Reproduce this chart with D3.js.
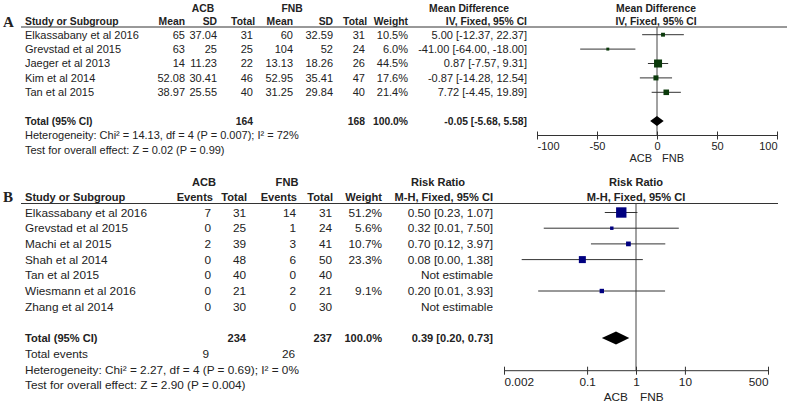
<!DOCTYPE html>
<html><head><meta charset="utf-8">
<script src="https://cdn.jsdelivr.net/npm/d3@7"></script>
<style>
html,body{margin:0;padding:0;background:#fff;}
svg text{font-family:"Liberation Sans",Arial,sans-serif;fill:#222;}
</style></head>
<body><svg id="c" width="787" height="405"></svg>
<script>
// ---------- Panel A data ----------
const studiesA = ["Elkassabany et al 2016","Grevstad et al 2015","Jaeger et al 2013","Kim et al 2014","Tan et al 2015"];
const acbMeanA = [65, 63, 14, 52.08, 38.97];
const acbSdA = [37.04, 25, 11.23, 30.41, 25.55];
const acbTotalA = [31, 25, 22, 46, 40];
const fnbMeanA = [60, 104, 13.13, 52.95, 31.25];
const fnbSdA = [32.59, 52, 18.26, 35.41, 29.84];
const fnbTotalA = [31, 24, 26, 47, 40];
const weightA = [10.5, 6.0, 44.5, 17.6, 21.4];
const mdA = [5.00, -41.00, 0.87, -0.87, 7.72];
const mdLowA = [-12.37, -64.00, -7.57, -14.28, -4.45];
const mdHighA = [22.37, -18.00, 9.31, 12.54, 19.89];
const totalA = [164, 168];
const pooledA = [-0.05, -5.68, 5.58];
const ticksA = [-100, -50, 0, 50, 100];
const hetA = "Heterogeneity: Chi\u00b2 = 14.13, df = 4 (P = 0.007); I\u00b2 = 72%";
const testA = "Test for overall effect: Z = 0.02 (P = 0.99)";

// ---------- Panel B data ----------
const studiesB = ["Elkassabany et al 2016","Grevstad et al 2015","Machi et al 2015","Shah et al 2014","Tan et al 2015","Wiesmann et al 2016","Zhang et al 2014"];
const acbEventsB = [7, 0, 2, 0, 0, 0, 0];
const acbTotalB = [31, 25, 39, 48, 40, 21, 30];
const fnbEventsB = [14, 1, 3, 6, 0, 2, 0];
const fnbTotalB = [31, 24, 41, 50, 40, 21, 30];
const weightB = [51.2, 5.6, 10.7, 23.3, null, 9.1, null];
const rrB = [0.50, 0.32, 0.70, 0.08, null, 0.20, null];
const rrLowB = [0.23, 0.013, 0.12, 0.0046, null, 0.01, null];
const rrHighB = [1.07, 7.50, 3.97, 1.38, null, 3.93, null];
const totalB = [234, 237];
const totalEventsB = [9, 26];
const pooledB = [0.39, 0.20, 0.73];
const ticksB = [0.002, 0.1, 1, 10, 500];
const hetB = "Heterogeneity: Chi\u00b2 = 2.27, df = 4 (P = 0.69); I\u00b2 = 0%";
const testB = "Test for overall effect: Z = 2.90 (P = 0.004)";

const svg = d3.select("#c");
function txt(g, x, y, s, o) {
  o = o || {};
  const fs = o.fs || 11;
  return g.append("text").attr("x", x).attr("y", y).attr("dy", "0.35em")
    .attr("text-anchor", o.a || "start").attr("font-size", o.b ? fs * 0.94 : fs)
    .attr("font-weight", o.b ? "bold" : "normal").text(s);
}
const f2 = d => d.toFixed(2);
function styleAxis(ax, n, fs) {
  ax.selectAll(".tick line").attr("y1", -4).attr("y2", 4).attr("stroke", "#333");
  ax.selectAll(".tick text").attr("font-size", fs).attr("fill", "#333")
    .attr("text-anchor", (d, i) => i === 0 ? "start" : (i === n - 1 ? "end" : "middle"));
}

// ================= PANEL A =================
(function(){
  const g = svg.append("g");
  const fs = 11;
  const x = d3.scaleLinear().domain([-100, 100]).range([537, 777]);
  const y = d3.scaleLinear().domain([0, 1]).range([34.7, 49.1]);
  const sz = d3.scaleSqrt().domain([0, 100]).range([0, 12]);
  g.append("text").attr("x", 3).attr("y", 27).attr("font-weight", "bold").attr("font-size", 15)
    .style("font-family","'Liberation Serif',serif").text("A");
  txt(g, 203, 8, "ACB", {a:"middle", b:1, fs});
  txt(g, 292, 8, "FNB", {a:"middle", b:1, fs});
  const hy = 21;
  txt(g, 25, hy, "Study or Subgroup", {b:1, fs});
  [["Mean",185],["SD",217],["Total",255],["Mean",293],["SD",333],["Total",367],["Weight",408]]
    .forEach(([s, xx]) => txt(g, xx, hy, s, {a:"end", b:1, fs}));
  txt(g, 469, 8, "Mean Difference", {a:"middle", b:1, fs});
  txt(g, 527, hy, "IV, Fixed, 95% CI", {a:"end", b:1, fs});
  txt(g, 656, 8, "Mean Difference", {a:"middle", b:1, fs});
  txt(g, 656, hy, "IV, Fixed, 95% CI", {a:"middle", b:1, fs});
  g.append("line").attr("x1", 21).attr("x2", 787).attr("y1", 27).attr("y2", 27).attr("stroke", "#333");

  studiesA.forEach((s, i) => {
    const yy = y(i);
    txt(g, 25, yy, s, {fs});
    txt(g, 185, yy, String(acbMeanA[i]), {a:"end", fs});
    txt(g, 217, yy, String(acbSdA[i]), {a:"end", fs});
    txt(g, 253, yy, String(acbTotalA[i]), {a:"end", fs});
    txt(g, 293, yy, String(fnbMeanA[i]), {a:"end", fs});
    txt(g, 333, yy, String(fnbSdA[i]), {a:"end", fs});
    txt(g, 365, yy, String(fnbTotalA[i]), {a:"end", fs});
    txt(g, 408, yy, weightA[i].toFixed(1) + "%", {a:"end", fs});
    txt(g, 527, yy, `${f2(mdA[i])} [${f2(mdLowA[i])}, ${f2(mdHighA[i])}]`, {a:"end", fs});
  });
  const ty = y(6);
  txt(g, 25, ty, "Total (95% CI)", {b:1, fs});
  txt(g, 253, ty, String(totalA[0]), {a:"end", b:1, fs});
  txt(g, 365, ty, String(totalA[1]), {a:"end", b:1, fs});
  txt(g, 408, ty, "100.0%", {a:"end", b:1, fs});
  txt(g, 527, ty, `${f2(pooledA[0])} [${f2(pooledA[1])}, ${f2(pooledA[2])}]`, {a:"end", b:1, fs});
  txt(g, 25, y(7), hetA, {fs});
  txt(g, 25, y(8), testA, {fs});

  const axY = 135.5;
  g.append("line").attr("x1", x(0)).attr("x2", x(0)).attr("y1", 27).attr("y2", axY).attr("stroke", "#444");
  studiesA.forEach((s, i) => {
    const yy = y(i);
    g.append("line").attr("x1", x(mdLowA[i])).attr("x2", x(mdHighA[i])).attr("y1", yy).attr("y2", yy)
      .attr("stroke", "#333").attr("stroke-width", 1);
    const w = sz(weightA[i]);
    g.append("rect").attr("x", x(mdA[i]) - w/2).attr("y", yy - w/2).attr("width", w).attr("height", w).attr("fill", "#0b3a0b");
  });
  const dh = 5;
  g.append("path").attr("d", `M${x(pooledA[1])},${ty}L${x(pooledA[0])},${ty-dh}L${x(pooledA[2])},${ty}L${x(pooledA[0])},${ty+dh}Z`).attr("fill", "#000");
  const ax = g.append("g").attr("transform", `translate(0,${axY})`)
    .call(d3.axisBottom(x).tickValues(ticksA).tickSize(3).tickPadding(4).tickFormat(d => String(d)));
  ax.select(".domain").attr("stroke", "#333").attr("d", `M${x(-100)},0H${x(100)}`);
  styleAxis(ax, ticksA.length, fs);
  txt(g, x(0) - 5, 158, "ACB", {a:"end", fs}).attr("fill", "#444");
  txt(g, x(0) + 5, 158, "FNB", {fs}).attr("fill", "#444");
})();

// ================= PANEL B =================
(function(){
  const g = svg.append("g");
  const fs = 11.8;
  const x = d3.scaleLog().domain([0.002, 500]).range([504, 768]);
  const y = d3.scaleLinear().domain([0, 1]).range([212.5, 228.2]);
  const sz = d3.scaleSqrt().domain([0, 100]).range([0, 14.5]);
  g.append("text").attr("x", 3).attr("y", 202).attr("font-weight", "bold").attr("font-size", 15)
    .style("font-family","'Liberation Serif',serif").text("B");
  txt(g, 204, 182, "ACB", {a:"middle", b:1, fs});
  txt(g, 287, 182, "FNB", {a:"middle", b:1, fs});
  const hy = 197;
  txt(g, 25, hy, "Study or Subgroup", {b:1, fs});
  [["Events",213],["Total",247],["Events",297],["Total",333],["Weight",382]]
    .forEach(([s, xx]) => txt(g, xx, hy, s, {a:"end", b:1, fs}));
  txt(g, 438, 182, "Risk Ratio", {a:"middle", b:1, fs});
  txt(g, 493, hy, "M-H, Fixed, 95% CI", {a:"end", b:1, fs});
  txt(g, 636, 182, "Risk Ratio", {a:"middle", b:1, fs});
  txt(g, 636, hy, "M-H, Fixed, 95% CI", {a:"middle", b:1, fs});
  g.append("line").attr("x1", 21).attr("x2", 778).attr("y1", 203.5).attr("y2", 203.5).attr("stroke", "#333");

  studiesB.forEach((s, i) => {
    const yy = y(i);
    txt(g, 25, yy, s, {fs});
    txt(g, 211, yy, String(acbEventsB[i]), {a:"end", fs});
    txt(g, 246, yy, String(acbTotalB[i]), {a:"end", fs});
    txt(g, 296, yy, String(fnbEventsB[i]), {a:"end", fs});
    txt(g, 332, yy, String(fnbTotalB[i]), {a:"end", fs});
    if (weightB[i] != null) {
      txt(g, 382, yy, weightB[i].toFixed(1) + "%", {a:"end", fs});
      txt(g, 493, yy, `${f2(rrB[i])} [${f2(rrLowB[i])}, ${f2(rrHighB[i])}]`, {a:"end", fs});
    } else {
      txt(g, 493, yy, "Not estimable", {a:"end", fs});
    }
  });
  const ty = y(8);
  txt(g, 25, ty, "Total (95% CI)", {b:1, fs});
  txt(g, 246, ty, String(totalB[0]), {a:"end", b:1, fs});
  txt(g, 332, ty, String(totalB[1]), {a:"end", b:1, fs});
  txt(g, 382, ty, "100.0%", {a:"end", b:1, fs});
  txt(g, 493, ty, `${f2(pooledB[0])} [${f2(pooledB[1])}, ${f2(pooledB[2])}]`, {a:"end", b:1, fs});
  txt(g, 25, y(9), "Total events", {fs});
  txt(g, 209, y(9), String(totalEventsB[0]), {a:"end", fs});
  txt(g, 295, y(9), String(totalEventsB[1]), {a:"end", fs});
  txt(g, 25, y(10), hetB, {fs});
  txt(g, 25, y(11), testB, {fs});

  const axY = 370.7;
  g.append("line").attr("x1", x(1)).attr("x2", x(1)).attr("y1", 203.5).attr("y2", axY).attr("stroke", "#444");
  studiesB.forEach((s, i) => {
    if (rrB[i] == null) return;
    const yy = y(i);
    g.append("line").attr("x1", x(rrLowB[i])).attr("x2", x(rrHighB[i])).attr("y1", yy).attr("y2", yy)
      .attr("stroke", "#333").attr("stroke-width", 1);
    const w = sz(weightB[i]);
    g.append("rect").attr("x", x(rrB[i]) - w/2).attr("y", yy - w/2).attr("width", w).attr("height", w).attr("fill", "#000080");
  });
  const dh = 6.5;
  g.append("path").attr("d", `M${x(pooledB[1])},${ty}L${x(pooledB[0])},${ty-dh}L${x(pooledB[2])},${ty}L${x(pooledB[0])},${ty+dh}Z`).attr("fill", "#000");
  const ax = g.append("g").attr("transform", `translate(0,${axY})`)
    .call(d3.axisBottom(x).tickValues(ticksB).tickSize(3).tickPadding(4).tickFormat(d => String(d)));
  ax.select(".domain").attr("stroke", "#333").attr("d", `M${x(0.002)},0H${x(500)}`);
  styleAxis(ax, ticksB.length, fs);
  txt(g, x(1) - 8, 397, "ACB", {a:"end", fs}).attr("fill", "#444");
  txt(g, x(1) + 4, 397, "FNB", {fs}).attr("fill", "#444");
})();
</script></body></html>
